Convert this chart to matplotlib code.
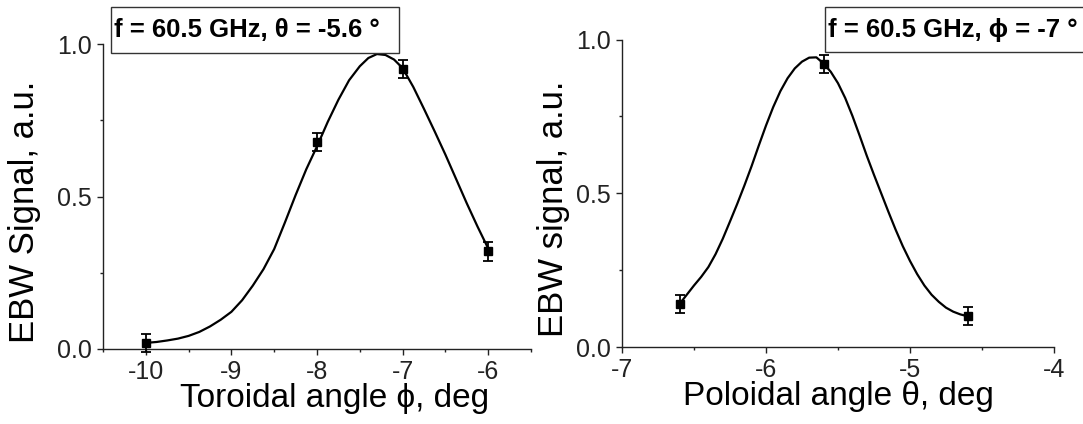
import matplotlib
matplotlib.use("Agg")
import matplotlib.pyplot as plt
from matplotlib.patches import Rectangle
from matplotlib.ticker import MultipleLocator

plt.rcParams["font.family"] = ["Liberation Sans", "DejaVu Sans"]

# ── Data ─────────────────────────────────────────────────────────────────────

# left panel: scan in toroidal angle, theta = -5.6 deg
tor_x   = [-10.0, -8.0, -7.0, -6.0]
tor_y   = [0.02, 0.68, 0.92, 0.32]
tor_err = [0.03, 0.03, 0.03, 0.03]

tor_fit_x = [-10.0, -9.875, -9.75, -9.625, -9.5, -9.375, -9.25, -9.125,
             -9.0, -8.875, -8.75, -8.625, -8.5, -8.375, -8.25, -8.125,
             -8.0, -7.875, -7.75, -7.625, -7.5, -7.4, -7.3, -7.2, -7.1,
             -7.0, -6.875, -6.75, -6.625, -6.5, -6.375, -6.25, -6.125, -6.0]
tor_fit_y = [0.020, 0.023, 0.028, 0.034, 0.043, 0.056, 0.074, 0.096,
             0.122, 0.160, 0.208, 0.262, 0.328, 0.415, 0.505, 0.590,
             0.665, 0.745, 0.818, 0.882, 0.928, 0.955, 0.968, 0.965, 0.950,
             0.922, 0.860, 0.788, 0.714, 0.638, 0.558, 0.478, 0.402, 0.330]

# right panel: scan in poloidal angle, phi = -7 deg
pol_x   = [-6.6, -5.6, -4.6]
pol_y   = [0.14, 0.92, 0.10]
pol_err = [0.03, 0.03, 0.03]

pol_fit_x = [-6.6, -6.55, -6.5, -6.45, -6.4, -6.35, -6.3, -6.25, -6.2,
             -6.15, -6.1, -6.05, -6.0, -5.95, -5.9, -5.85, -5.8, -5.75,
             -5.7, -5.65, -5.6, -5.55, -5.5, -5.45, -5.4, -5.35, -5.3,
             -5.25, -5.2, -5.15, -5.1, -5.05, -5.0, -4.95, -4.9, -4.85,
             -4.8, -4.75, -4.7, -4.65, -4.6]
pol_fit_y = [0.140, 0.170, 0.200, 0.228, 0.260, 0.302, 0.352, 0.408, 0.465,
             0.525, 0.588, 0.655, 0.720, 0.780, 0.832, 0.874, 0.906, 0.928,
             0.941, 0.942, 0.922, 0.895, 0.858, 0.810, 0.752, 0.688, 0.622,
             0.560, 0.500, 0.440, 0.382, 0.328, 0.280, 0.237, 0.200, 0.170,
             0.147, 0.128, 0.115, 0.106, 0.100]

# ── Figure ───────────────────────────────────────────────────────────────────

fig = plt.figure(figsize=(10.83, 4.24), dpi=100)
ax1 = fig.add_axes([0.0951, 0.1769, 0.3952, 0.7186])
ax2 = fig.add_axes([0.5743, 0.1816, 0.3989, 0.7252])


def style(ax, xmin, xmax, xminor):
    ax.set_xlim(xmin, xmax)
    ax.set_ylim(0, 1.0)
    for side in ("top", "right"):
        ax.spines[side].set_visible(False)
    for side in ("left", "bottom"):
        ax.spines[side].set_linewidth(1.0)
        ax.spines[side].set_color("#222222")
    ax.xaxis.set_major_locator(MultipleLocator(1))
    ax.xaxis.set_minor_locator(MultipleLocator(xminor))
    ax.yaxis.set_major_locator(MultipleLocator(0.5))
    ax.yaxis.set_minor_locator(MultipleLocator(0.25))
    ax.yaxis.set_major_formatter(plt.FormatStrFormatter("%.1f"))
    ax.tick_params(which="major", direction="out", length=4, width=1.0,
                   labelsize=18, pad=4, colors="#222222")
    ax.tick_params(which="minor", direction="out", length=2.5, width=1.0,
                   colors="#222222")


def plot_scan(ax, fx, fy, x, y, err):
    ax.plot(fx, fy, color="black", linewidth=1.6, clip_on=False, zorder=2)
    ax.errorbar(x, y, yerr=err, fmt="s", color="black", markersize=6,
                elinewidth=1.3, capsize=3.5, capthick=1.3, clip_on=False,
                zorder=3)


style(ax1, -10.5, -5.5, 0.5)
plot_scan(ax1, tor_fit_x, tor_fit_y, tor_x, tor_y, tor_err)
ax1.set_xticks([-10, -9, -8, -7, -6])
ax1.set_xticklabels(["-10", "-9", "-8", "-7", "-6"])
ax1.set_xlabel("Toroidal angle \u03d5, deg", fontsize=24)
ax1.xaxis.set_label_coords(0.54, -0.11)
ax1.set_ylabel("EBW Signal, a.u.", fontsize=25)
ax1.yaxis.set_label_coords(-0.145, 0.45)

style(ax2, -7, -4, 0.5)
plot_scan(ax2, pol_fit_x, pol_fit_y, pol_x, pol_y, pol_err)
ax2.set_xticks([-7, -6, -5, -4])
ax2.set_xticklabels(["-7", "-6", "-5", "-4"])
ax2.set_xlabel("Poloidal angle \u03b8, deg", fontsize=24)
ax2.xaxis.set_label_coords(0.5, -0.11)
ax2.set_ylabel("EBW signal, a.u.", fontsize=25)
ax2.yaxis.set_label_coords(-0.12, 0.45)

# condition boxes at the top
W, H = 1083.0, 424.0
for (x0, x1, y0, y1, txt) in [
        (111, 399, 7, 53, "f = 60.5 GHz, \u03b8 = -5.6 \u00b0"),
        (825, 1090, 7, 52, "f = 60.5 GHz, \u03d5 = -7 \u00b0")]:
    fig.patches.append(Rectangle((x0 / W, 1 - y1 / H), (x1 - x0) / W,
                                 (y1 - y0) / H, transform=fig.transFigure,
                                 facecolor="white", edgecolor="#333333",
                                 linewidth=1.0, zorder=5))
    fig.text((x0 + 3) / W, 1 - (y0 + y1) / 2 / H, txt, fontsize=18.5,
             fontweight="bold", ha="left", va="center", zorder=6)

fig.savefig("out.png", dpi=100)
